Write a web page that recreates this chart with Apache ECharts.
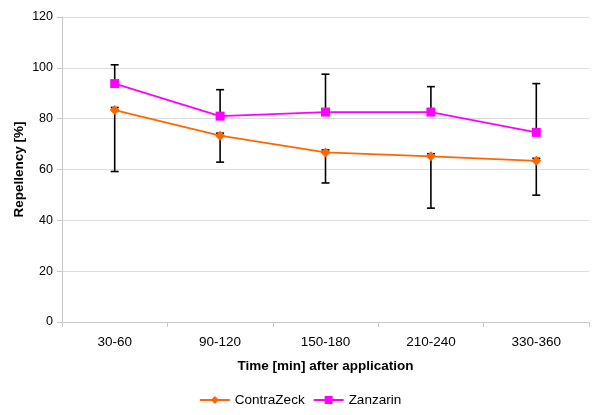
<!DOCTYPE html>
<html><head><meta charset="utf-8">
<script src="https://cdn.jsdelivr.net/npm/echarts@6/dist/echarts.min.js"></script>
<style>html,body{margin:0;padding:0;background:#fff}#c{width:600px;height:415px}</style>
</head><body><div id="c"></div>
<script>
const categories = ['30-60','90-120','150-180','210-240','330-360'];
const contraZeck = [83.4, 73.3, 66.7, 65.2, 63.4];
const contraZeckErrMinus = [24.2, 10.4, 12.0, 20.4, 13.5];
const zanzarin = [93.8, 81.0, 82.6, 82.6, 74.6];
const zanzarinErrPlus = [7.4, 10.4, 14.9, 10.0, 19.2];
const yTicks = [0, 20, 40, 60, 80, 100, 120];

const font = 'Liberation Sans, Arial, sans-serif';
const chart = echarts.init(document.getElementById('c'), null, {renderer:'canvas'});

function errSeries(name, lo, hi, capLow, capHigh) {
  return {
    type: 'custom', name: name + ' err', z: 1, silent: true,
    data: categories.map((c, i) => [i, lo(i), hi(i)]),
    renderItem: function (params, api) {
      const x = api.value(0);
      const p1 = api.coord([x, api.value(1)]);
      const p2 = api.coord([x, api.value(2)]);
      const w = 4;
      const st = {stroke: '#000', lineWidth: 1.6};
      const children = [{type:'line', shape:{x1:p1[0], y1:p1[1], x2:p2[0], y2:p2[1]}, style: st}];
      if (capLow) children.push({type:'line', shape:{x1:p1[0]-w, y1:p1[1], x2:p1[0]+w, y2:p1[1]}, style: st});
      if (capHigh) children.push({type:'line', shape:{x1:p2[0]-w, y1:p2[1], x2:p2[0]+w, y2:p2[1]}, style: st});
      return {type:'group', children};
    }
  };
}

chart.setOption({
  animation: false,
  textStyle: {fontFamily: font},
  grid: {left: 62, right: 11, top: 17, bottom: 93, containLabel: false},
  legend: {
    bottom: 3, left: 'center', itemWidth: 30, itemHeight: 10, itemGap: 8,
    textStyle: {fontFamily: font, fontSize: 13.5, color: '#000'},
    data: ['ContraZeck', 'Zanzarin']
  },
  xAxis: {
    type: 'category', data: categories, boundaryGap: true,
    name: 'Time [min] after application', nameLocation: 'middle', nameGap: 37,
    nameTextStyle: {fontFamily: font, fontSize: 13.5, fontWeight: 'bold', color: '#000'},
    axisLine: {lineStyle: {color: '#c8c8c8'}},
    axisTick: {show: true, length: 5, lineStyle: {color: '#c8c8c8'}},
    axisLabel: {fontFamily: font, fontSize: 13.5, color: '#000', margin: 13}
  },
  yAxis: {
    type: 'value', min: 0, max: 120, interval: 20,
    name: 'Repellency [%]', nameLocation: 'middle', nameGap: 36, nameRotate: 90,
    nameMoveOverlap: false,
    nameTextStyle: {fontFamily: font, fontSize: 13.5, fontWeight: 'bold', color: '#000'},
    axisLine: {show: true, lineStyle: {color: '#c8c8c8'}},
    axisTick: {show: true, length: 5, lineStyle: {color: '#c8c8c8'}},
    axisLabel: {fontFamily: font, fontSize: 12.5, color: '#000', margin: 9,
      formatter: v => yTicks.includes(v) ? String(v) : ''},
    splitLine: {lineStyle: {color: '#dcdcdc'}}
  },
  series: [
    errSeries('ContraZeck', i => contraZeck[i] - contraZeckErrMinus[i], i => contraZeck[i] + 1, true, true),
    errSeries('Zanzarin', i => zanzarin[i], i => zanzarin[i] + zanzarinErrPlus[i], false, true),
    {
      name: 'ContraZeck', type: 'line', data: contraZeck, z: 3,
      symbol: 'diamond', symbolSize: 10,
      lineStyle: {color: '#FF6600', width: 1.8},
      itemStyle: {color: '#FF6600'}
    },
    {
      name: 'Zanzarin', type: 'line', data: zanzarin, z: 3,
      symbol: 'rect', symbolSize: 9,
      lineStyle: {color: '#FF00FF', width: 1.8},
      itemStyle: {color: '#FF00FF'}
    }
  ]
});
</script></body></html>
